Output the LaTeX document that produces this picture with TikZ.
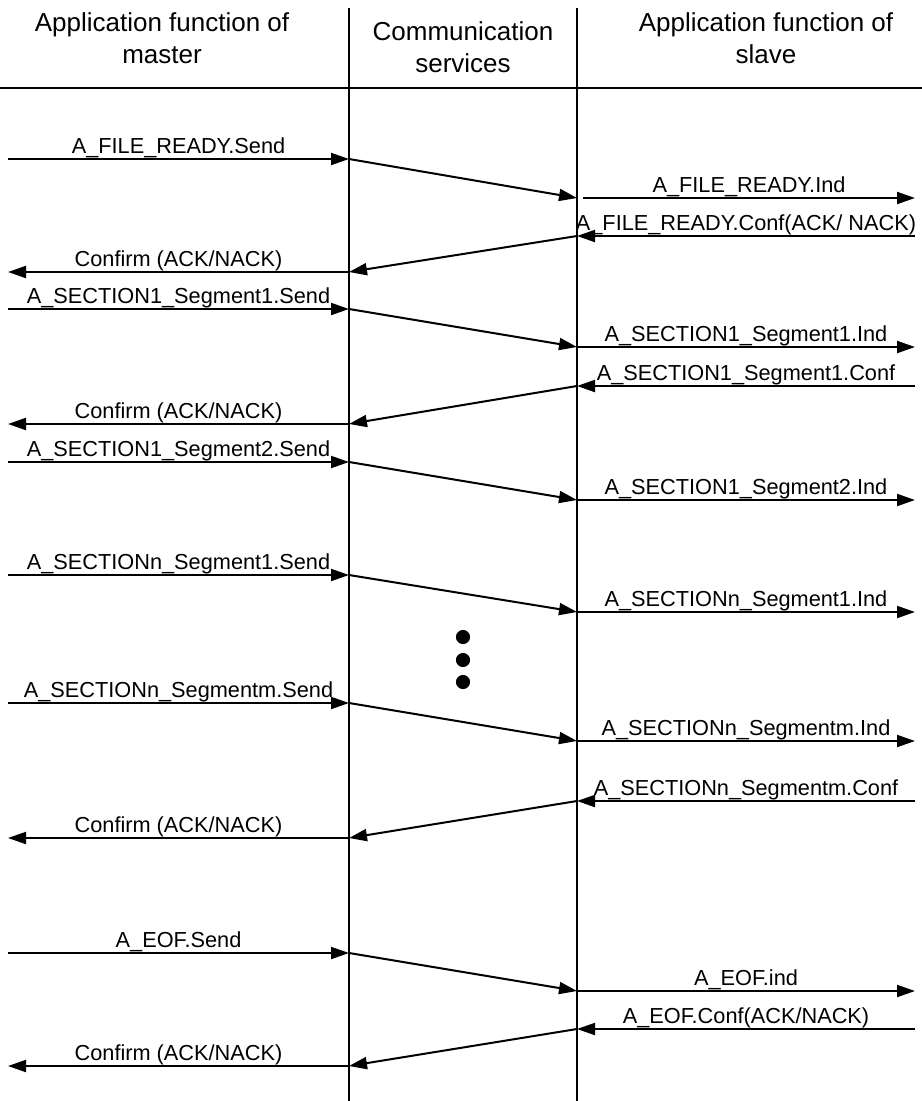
\documentclass[tikz,border=0pt]{standalone}
\usepackage{fontspec}
\setmainfont{Liberation Sans}
\usetikzlibrary{arrows.meta}

\begin{document}
\begin{tikzpicture}[x=0.75pt,y=-0.75pt,->,>={Triangle[length=13.5pt,width=9pt]},line width=1.5pt]
        \tikzstyle{lbl}=[anchor=base,yshift=4.5pt,inner sep=0pt,font=\fontsize{16.3}{19}\selectfont]
        \tikzstyle{head}=[align=center,anchor=base,inner sep=0pt,font=\fontsize{19.5}{24}\selectfont]
        \tikzstyle{lifeline}=[-,line width=1pt]
        \useasboundingbox (0,0) rectangle (922,1101);

        % column heads
        \node[head] (master)  at (162,63) {Application function of\\master};
        \node[head] (comm)    at (463,72) {Communication\\services};
        \node[head] (slave)   at (766,63) {Application function of\\slave};

        % life lines
        \coordinate (ltop) at (349,8);
        \coordinate (lbot) at (349,1101);
        \coordinate (rtop) at (577,8);
        \coordinate (rbot) at (577,1101);
        \coordinate (hl) at (0,88);
        \coordinate (hr) at (922,88);
        \draw[lifeline] (ltop) -- (lbot);
        \draw[lifeline] (rtop) -- (rbot);
        \draw[-,line width=1.5pt] (hl) -- (hr);

        % end points of the messages
        \coordinate (a0) at (8,159);   \coordinate (a1) at (349,159);
        \coordinate (a2) at (577,198); \coordinate (a3) at (915,198);
        \coordinate (a4) at (583,198);
        \coordinate (b3) at (915,236); \coordinate (b2) at (577,236);
        \coordinate (b1) at (349,272); \coordinate (b0) at (8,272);

        \coordinate (c0) at (8,309);   \coordinate (c1) at (349,309);
        \coordinate (c2) at (577,347); \coordinate (c3) at (915,347);
        \coordinate (d3) at (915,386); \coordinate (d2) at (577,386);
        \coordinate (d1) at (349,424); \coordinate (d0) at (8,424);

        \coordinate (e0) at (8,462);   \coordinate (e1) at (349,462);
        \coordinate (e2) at (577,500); \coordinate (e3) at (915,500);

        \coordinate (f0) at (8,575);   \coordinate (f1) at (349,575);
        \coordinate (f2) at (577,612); \coordinate (f3) at (915,612);

        \coordinate (g0) at (8,703);   \coordinate (g1) at (349,703);
        \coordinate (g2) at (577,741); \coordinate (g3) at (915,741);
        \coordinate (h3) at (915,801); \coordinate (h2) at (577,801);
        \coordinate (h1) at (349,838); \coordinate (h0) at (8,838);

        \coordinate (i0) at (8,953);   \coordinate (i1) at (349,953);
        \coordinate (i2) at (577,991); \coordinate (i3) at (915,991);
        \coordinate (j3) at (915,1029); \coordinate (j2) at (577,1029);
        \coordinate (j1) at (349,1066); \coordinate (j0) at (8,1066);

        \path (a0) edge node[lbl] {A\_FILE\_READY.Send} (a1)
        (a1) edge (a2)
        (a4) edge node[lbl] {A\_FILE\_READY.Ind} (a3)
        (b3) edge node[lbl] {A\_FILE\_READY.Conf(ACK/ NACK)} (b2)
        (b2) edge (b1)
        (b1) edge node[lbl] {Confirm (ACK/NACK)} (b0)

        (c0) edge node[lbl] {A\_SECTION1\_Segment1.Send} (c1)
        (c1) edge (c2)
        (c2) edge node[lbl] {A\_SECTION1\_Segment1.Ind} (c3)
        (d3) edge node[lbl] {A\_SECTION1\_Segment1.Conf} (d2)
        (d2) edge (d1)
        (d1) edge node[lbl] {Confirm (ACK/NACK)} (d0)

        (e0) edge node[lbl] {A\_SECTION1\_Segment2.Send} (e1)
        (e1) edge (e2)
        (e2) edge node[lbl] {A\_SECTION1\_Segment2.Ind} (e3)

        (f0) edge node[lbl] {A\_SECTIONn\_Segment1.Send} (f1)
        (f1) edge (f2)
        (f2) edge node[lbl] {A\_SECTIONn\_Segment1.Ind} (f3)

        (g0) edge node[lbl] {A\_SECTIONn\_Segmentm.Send} (g1)
        (g1) edge (g2)
        (g2) edge node[lbl] {A\_SECTIONn\_Segmentm.Ind} (g3)
        (h3) edge node[lbl] {A\_SECTIONn\_Segmentm.Conf} (h2)
        (h2) edge (h1)
        (h1) edge node[lbl] {Confirm (ACK/NACK)} (h0)

        (i0) edge node[lbl] {A\_EOF.Send} (i1)
        (i1) edge (i2)
        (i2) edge node[lbl] {A\_EOF.ind} (i3)
        (j3) edge node[lbl] {A\_EOF.Conf(ACK/NACK)} (j2)
        (j2) edge (j1)
        (j1) edge node[lbl] {Confirm (ACK/NACK)} (j0);

        % dots
        \foreach \y in {637,660,682}
            \fill (463,\y) circle (5.3pt);
    \end{tikzpicture}
\end{document}
